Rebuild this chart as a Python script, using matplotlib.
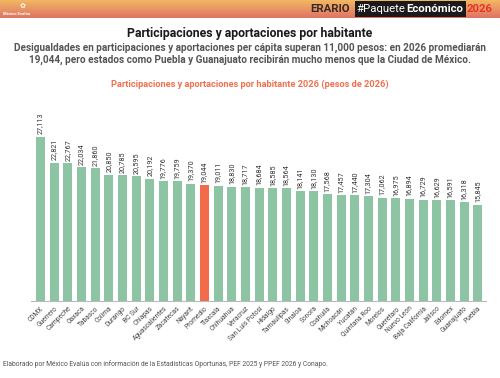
import matplotlib
matplotlib.use("Agg")
import matplotlib.pyplot as plt
import numpy as np
from matplotlib.patches import Rectangle

states = ["CDMX", "Guerrero", "Campeche", "Oaxaca", "Tabasco", "Colima", "Durango", "BC Sur",
          "Chiapas", "Aguascalientes", "Zacatecas", "Nayarit", "Promedio", "Tlaxcala", "Chihuahua",
          "Veracruz", "San Luis Potosí", "Hidalgo", "Tamaulipas", "Sinaloa", "Sonora", "Coahuila",
          "Michoacán", "Yucatán", "Quintana Roo", "Morelos", "Querétaro", "Nuevo León",
          "Baja California", "Jalisco", "Edomex", "Guanajuato", "Puebla"]
values = [27113, 22821, 22767, 22034, 21860, 20850, 20785, 20595, 20192, 19776, 19759, 19370,
          19044, 19011, 18830, 18717, 18684, 18585, 18564, 18141, 18130, 17568, 17457, 17440,
          17304, 17062, 16975, 16894, 16729, 16629, 16591, 16318, 15845]

plt.rcParams['font.family'] = ['Roboto', 'DejaVu Sans']

fig = plt.figure(figsize=(5, 3.78), dpi=100)
fig.patch.set_facecolor('white')

# header gradient band
hax = fig.add_axes([0, 1 - 18/378, 1, 18/378])
top = np.array([0.95, 0.72, 0.38])
bot = np.array([0.88, 0.45, 0.40])
grad = np.linspace(0, 1, 50)[:, None, None]
img = top * (1 - grad) + bot * grad
hax.imshow(np.repeat(img, 2, axis=1), aspect='auto', extent=[0, 1, 0, 1])
hax.set_xlim(0, 1); hax.set_ylim(0, 1)
hax.axis('off')
hax.text(0.006, 0.22, "México Evalúa", color='white', fontsize=3, fontweight='bold', va='center')
hax.text(0.045, 0.7, "✿", color='white', fontsize=5, ha='center', va='center', family='DejaVu Sans')
hax.text(0.620, 0.5, "ERARIO", color='#3a2a25', fontsize=8.2, fontweight='bold', va='center')
hax.add_patch(Rectangle((0.709, 0.08), 0.222, 0.84, fc='#1a1a1a', ec='none'))
hax.text(0.712, 0.5, "#Paquete", color='white', fontsize=8.2, va='center')
hax.text(0.813, 0.5, "Económico", color='white', fontsize=8.2, fontweight='bold', va='center')
hax.text(0.934, 0.5, "2026", color='#e8332a', fontsize=8.2, fontweight='bold', va='center')

fig.text(0.5, 1 - 34/378, "Participaciones y aportaciones por habitante", ha='center', va='center',
         fontsize=8.8, fontweight='bold', color='#1a1a1a')
fig.text(0.5, 1 - 54/378,
         "Desigualdades en participaciones y aportaciones per cápita superan 11,000 pesos: en 2026 promediarán\n"
         "19,044, pero estados como Puebla y Guanajuato recibirán mucho menos que la Ciudad de México.",
         ha='center', va='center', fontsize=7.2, fontweight='bold', color='#555555', linespacing=1.2)
fig.text(0.5, 1 - 84/378, "Participaciones y aportaciones por habitante 2026 (pesos de 2026)",
         ha='center', va='center', fontsize=6.7, fontweight='bold', color='#f07050')

ax = fig.add_axes([0.062, 0.204, 0.91, 0.545])
x = np.arange(len(states))
colors = ['#f26b4a' if s == 'Promedio' else '#8cc4a4' for s in states]
ax.bar(x, values, width=0.66, color=colors)
for xi, v in zip(x, values):
    ax.text(xi, v + 400, f"{v:,}", rotation=90, ha='center', va='bottom', fontsize=5.2, color='#333333')
ax.set_xlim(-0.7, len(states) - 0.4)
ax.set_ylim(0, 34000)
ax.set_yticks([])
ax.set_xticks(x)
ax.set_xticklabels(states, rotation=45, ha='right', rotation_mode='anchor', fontsize=4.8, color='#444444')
ax.tick_params(axis='x', length=0, pad=3)
for s in ['top', 'right', 'left']:
    ax.spines[s].set_visible(False)
ax.spines['bottom'].set_color('#bbbbbb')
ax.spines['bottom'].set_linewidth(0.8)

fig.text(0.006, 1 - 364/378,
         "Elaborado por México Evalúa con información de la Estadísticas Oportunas, PEF 2025 y PPEF 2026 y Conapo.",
         ha='left', va='center', fontsize=4.9, color='#555555')

fig.savefig("out.png", dpi=100)
